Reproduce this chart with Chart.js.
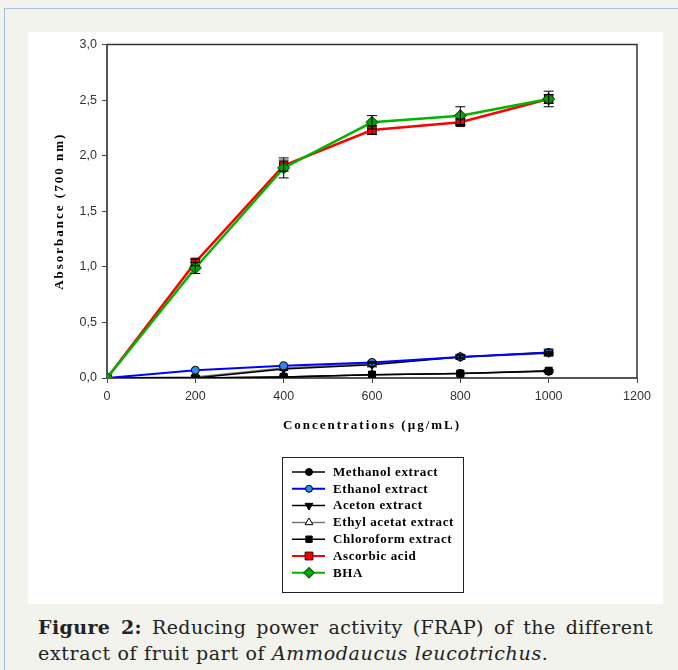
<!DOCTYPE html>
<html lang="en">
<head>
  <meta charset="UTF-8">
  <title>Reducing power activity (FRAP)</title>
  <script src="https://cdn.jsdelivr.net/npm/chart.js"></script>
  <style>
    body {
      margin: 0;
      width: 678px;
      height: 670px;
      background: #f3f3ee;
      position: relative;
      overflow: hidden;
    }

    .frame {
      position: absolute;
      left: 4px;
      top: 8px;
      right: 0;
      bottom: 0;
      border-left: 1px solid #a8c0dc;
      border-top: 1px solid #a8c0dc;
    }

    .panel {
      position: absolute;
      left: 28px;
      top: 32px;
      width: 635px;
      height: 572px;
      background: #fff;
    }

    .caption {
      position: absolute;
      left: 38px;
      top: 614px;
      width: 615px;
      font-family: "DejaVu Serif", serif;
      font-size: 19px;
      letter-spacing: 0.65px;
      line-height: 26px;
      color: #222;
    }

    .caption .l1 {
      text-align: justify;
      text-align-last: justify;
      white-space: nowrap;
      letter-spacing: 0.4px;
    }
  </style>
</head>

<body>
  <div class="frame"></div>
  <div class="panel">
    <canvas id="chart" width="635" height="572"></canvas>
  </div>
  <div class="caption">
    <div class="l1"><b>Figure 2:</b> Reducing power activity (FRAP) of the different</div>
    <div>extract of fruit part of <i>Ammodaucus leucotrichus</i>.</div>
  </div>
  <script>
    // concentrations (µg/mL)
    const concentrations = [0, 200, 400, 600, 800, 1000];
    const xTicks = [0, 200, 400, 600, 800, 1000, 1200];
    const yTicks = [0, 0.5, 1.0, 1.5, 2.0, 2.5, 3.0];

    // absorbance (700 nm)
    const methanol = [0, 0.00, 0.01, 0.03, 0.04, 0.06];
    const ethanol = [0, 0.07, 0.11, 0.14, 0.19, 0.23];
    const aceton = [0, 0.00, 0.08, 0.12, 0.19, 0.23];
    const ethylAcetat = [0, 0.01, 0.09, 0.13, 0.19, 0.22];
    const chloroform = [0, 0.00, 0.01, 0.03, 0.04, 0.065];
    const ascorbic = [0, 1.04, 1.91, 2.23, 2.30, 2.51];
    const bha = [0, 0.99, 1.89, 2.30, 2.36, 2.51];

    // error bars (+/-)
    const methanolErr = [0, 0, 0, 0, 0, 0.01];
    const ethanolErr = [0, 0, 0, 0.01, 0.01, 0.01];
    const acetonErr = [0, 0, 0, 0.02, 0.02, 0.03];
    const ethylAcetatErr = [0, 0, 0, 0, 0.01, 0.01];
    const chloroformErr = [0, 0, 0, 0, 0, 0.01];
    const ascorbicErr = [0, 0.03, 0.05, 0.04, 0.03, 0.04];
    const bhaErr = [0, 0.05, 0.09, 0.06, 0.08, 0.07];

    const xTitle = 'Concentrations (µg/mL)';
    const yTitle = 'Absorbance (700 nm)';

    const toPoints = arr => arr.map((v, i) => ({ x: concentrations[i], y: v }));

    const datasets = [
      {
        label: 'Methanol extract', data: toPoints(methanol), err: methanolErr, order: 3,
        borderColor: '#000', borderWidth: 1.5,
        pointStyle: 'circle', pointRadius: 4, pointBackgroundColor: '#000', pointBorderColor: '#000', pointBorderWidth: 1
      },
      {
        label: 'Ethanol extract', data: toPoints(ethanol), err: ethanolErr, order: 2,
        borderColor: '#0000ff', borderWidth: 2,
        pointStyle: 'circle', pointRadius: 4, pointBackgroundColor: '#2a8cf0', pointBorderColor: '#000', pointBorderWidth: 1
      },
      {
        label: 'Aceton extract', data: toPoints(aceton), err: acetonErr, order: 3,
        borderColor: '#000', borderWidth: 1.5,
        pointStyle: 'triangle', pointRotation: 180, pointRadius: 5, pointBackgroundColor: '#000', pointBorderColor: '#000', pointBorderWidth: 1
      },
      {
        label: 'Ethyl acetat extract', data: toPoints(ethylAcetat), err: ethylAcetatErr, order: 4,
        borderColor: '#777', borderWidth: 1.5,
        pointStyle: 'triangle', pointRadius: 5, pointBackgroundColor: '#fff', pointBorderColor: '#000', pointBorderWidth: 1
      },
      {
        label: 'Chloroform extract', data: toPoints(chloroform), err: chloroformErr, order: 3,
        borderColor: '#000', borderWidth: 1.5,
        pointStyle: 'rect', pointRadius: 5, pointBackgroundColor: '#000', pointBorderColor: '#000', pointBorderWidth: 1
      },
      {
        label: 'Ascorbic acid', data: toPoints(ascorbic), err: ascorbicErr, order: 1,
        borderColor: '#ff0000', borderWidth: 2.5,
        pointStyle: 'rect', pointRadius: 6, pointBackgroundColor: '#f00000', pointBorderColor: '#300', pointBorderWidth: 1
      },
      {
        label: 'BHA', data: toPoints(bha), err: bhaErr, order: 0,
        borderColor: '#00b400', borderWidth: 2.5,
        pointStyle: 'rectRot', pointRadius: 6, pointBackgroundColor: '#00a000', pointBorderColor: '#004000', pointBorderWidth: 1
      }
    ];

    const comma = v => v.toFixed(1).replace('.', ',');
    const titleFont = 'bold 13px "Liberation Serif", "Times New Roman", serif';
    const tickFont = { family: '"Liberation Sans", Arial, sans-serif', size: 12.5 };

    // error bars drawn with the chart's own scales
    const errorBars = {
      id: 'errorBars',
      afterDatasetsDraw(chart) {
        const { ctx, scales: { x, y } } = chart;
        ctx.save();
        ctx.strokeStyle = '#000';
        ctx.lineWidth = 1;
        chart.data.datasets.forEach(ds => {
          ds.data.forEach((p, i) => {
            const e = ds.err[i];
            if (!e) return;
            const px = x.getPixelForValue(p.x);
            const top = y.getPixelForValue(p.y + e);
            const bot = y.getPixelForValue(p.y - e);
            ctx.beginPath();
            ctx.moveTo(px, top); ctx.lineTo(px, bot);
            ctx.moveTo(px - 5, top); ctx.lineTo(px + 5, top);
            ctx.moveTo(px - 5, bot); ctx.lineTo(px + 5, bot);
            ctx.stroke();
          });
        });
        ctx.restore();
      }
    };

    // top and right edge of the plot box, plus the spaced-out axis titles
    const boxFrame = {
      id: 'boxFrame',
      afterDraw(chart) {
        const { ctx, chartArea: a } = chart;
        ctx.save();
        ctx.strokeStyle = '#333';
        ctx.lineWidth = 1.5;
        ctx.beginPath();
        ctx.moveTo(a.left, a.top);
        ctx.lineTo(a.right, a.top);
        ctx.lineTo(a.right, a.bottom);
        ctx.stroke();

        ctx.fillStyle = '#000';
        ctx.font = titleFont;
        ctx.letterSpacing = '2px';
        ctx.textAlign = 'center';
        ctx.textBaseline = 'middle';
        ctx.fillText(xTitle, (a.left + a.right) / 2, a.bottom + 48);
        ctx.translate(32, (a.top + a.bottom) / 2);
        ctx.rotate(-Math.PI / 2);
        ctx.fillText(yTitle, 0, 0);
        ctx.restore();
      }
    };

    // boxed legend below the axis title
    const boxLegend = {
      id: 'boxLegend',
      afterDraw(chart) {
        const ctx = chart.ctx;
        const bx = 254, by = 425, bw = 181, bh = 135;
        ctx.save();
        ctx.strokeStyle = '#222';
        ctx.lineWidth = 1;
        ctx.strokeRect(bx + 0.5, by + 0.5, bw, bh);
        ctx.font = titleFont;
        ctx.letterSpacing = '0.6px';
        ctx.textBaseline = 'middle';
        chart.data.datasets.forEach((ds, i) => {
          const cy = 440 + i * 16.8;
          ctx.strokeStyle = ds.borderColor;
          ctx.lineWidth = Math.min(ds.borderWidth, 2);
          ctx.beginPath();
          ctx.moveTo(264, cy); ctx.lineTo(297, cy);
          ctx.stroke();
          ctx.fillStyle = ds.pointBackgroundColor;
          ctx.strokeStyle = ds.pointBorderColor;
          ctx.lineWidth = 1;
          Chart.helpers.drawPoint(ctx, {
            pointStyle: ds.pointStyle,
            radius: ds.pointRadius - 0.5,
            rotation: ds.pointRotation || 0,
            borderWidth: 1
          }, 281, cy);
          ctx.fillStyle = '#000';
          ctx.fillText(ds.label, 305, cy + 0.5);
        });
        ctx.restore();
      }
    };

    new Chart(document.getElementById('chart'), {
      type: 'line',
      data: { datasets },
      options: {
        responsive: false,
        animation: false,
        layout: { padding: { top: 10, right: 26, left: 0, bottom: 156 } },
        plugins: {
          legend: { display: false },
          tooltip: { enabled: false }
        },
        elements: { line: { tension: 0 } },
        scales: {
          x: {
            type: 'linear',
            min: 0,
            max: 1200,
            afterFit: s => { s.height = 70; },
            afterBuildTicks: s => { s.ticks = xTicks.map(v => ({ value: v })); },
            grid: { drawOnChartArea: false, tickLength: 5, color: '#444', tickWidth: 1 },
            border: { color: '#555', width: 2 },
            ticks: {
              padding: 6,
              color: '#333',
              font: tickFont,
              maxRotation: 0,
              callback: v => String(v)
            }
          },
          y: {
            min: 0,
            max: 3,
            afterFit: s => { s.width = 79; },
            afterBuildTicks: s => { s.ticks = yTicks.map(v => ({ value: v })); },
            grid: { drawOnChartArea: false, tickLength: 5, color: '#444', tickWidth: 1 },
            border: { color: '#555', width: 2 },
            ticks: {
              padding: 5,
              color: '#333',
              font: tickFont,
              callback: v => comma(v)
            }
          }
        }
      },
      plugins: [errorBars, boxFrame, boxLegend]
    });
  </script>
</body>

</html>
